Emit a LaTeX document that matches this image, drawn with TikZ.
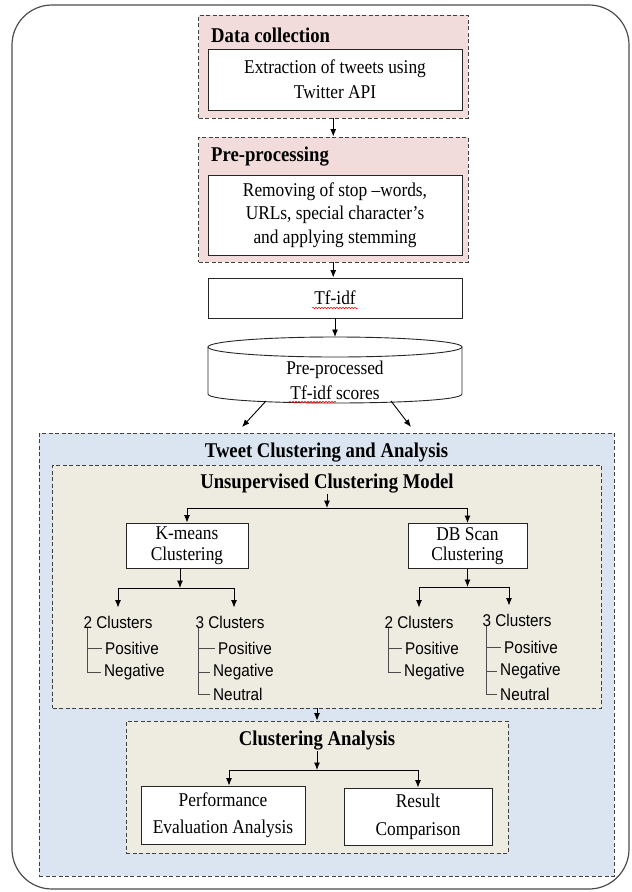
\documentclass[tikz,border=0pt]{standalone}
\usepackage{fontspec}
\setmainfont{Liberation Serif}[FakeStretch=0.89]
\setsansfont{Liberation Sans}[FakeStretch=0.9]
\usetikzlibrary{arrows.meta,decorations.pathmorphing}
\definecolor{pinkfill}{HTML}{F2DCDB}
\definecolor{bluefill}{HTML}{DBE5F1}
\definecolor{tanfill}{HTML}{EEECE1}

\begin{document}
\begin{tikzpicture}[x=1pt, y=-1pt,
    box/.style={draw=black!85, fill=white, line width=0.9pt, align=center, inner sep=0pt,
        font=\fontsize{19.5}{25}\selectfont},
    group/.style={draw=black!75, line width=0.9pt, dash pattern=on 4pt off 2.5pt, inner sep=0pt},
    heading/.style={font=\bfseries\fontsize{21}{25}\selectfont, inner sep=0pt},
    count/.style={font=\sffamily\fontsize{17}{20}\selectfont, inner sep=0pt},
    leaf/.style={font=\sffamily\fontsize{17}{20}\selectfont, inner xsep=3pt, inner ysep=0pt, anchor=west},
    twig/.style={draw=black!70, line width=0.9pt},
    arr/.style={-{Latex[length=7.5pt,width=6pt]}, line width=0.9pt},
    spell/.style={red, line width=0.5pt, decorate, decoration={snake, amplitude=0.8pt, segment length=3pt}}]

            \useasboundingbox (0,0) rectangle (632,892);
            \draw[black!70, line width=1.2pt, rounded corners=40pt] (12,5) rectangle (629,889);

            % data collection
            \node[group, fill=pinkfill, minimum width=269.5pt, minimum height=103pt] (dc) at (333.25,66.5) {};
            \node[heading, anchor=west] (dctitle) at (211,35) {Data collection};
            \node[box, minimum width=254pt, minimum height=61pt] (ext) at (335,79.5) {Extraction of tweets using\\Twitter API};

            % pre-processing
            \node[group, fill=pinkfill, minimum width=269.5pt, minimum height=125pt] (pp) at (333.25,199.5) {};
            \node[heading, anchor=west] (pptitle) at (211,157) {Pre-processing};
            \node[box, minimum width=254pt, minimum height=80pt, font=\fontsize{19.5}{23.5}\selectfont] (rm) at (335,215)
                {Removing of stop –words,\\URLs, special character’s\\and applying stemming};
            \draw[arr] (dc.south) -- (pp.north);

            % tf-idf
            \node[box, minimum width=254pt, minimum height=40pt] (tf) at (335,298) {Tf-idf};
            \draw[spell] ([xshift=-23pt,yshift=-10pt]tf.center) -- ++(46,0);
            \draw[arr] (pp.south) -- (pp.south |- tf.north);

            % scores database
            \filldraw[fill=white, draw=black!85, line width=0.9pt] (208,347) -- (208,394)
                .. controls (208,406) and (462,406) .. (462,394) -- (462,347);
            \draw[fill=white, draw=black!85, line width=0.9pt] (335,347) ellipse [x radius=127pt, y radius=10pt];
            \node[align=center, inner sep=0pt, font=\fontsize{19.5}{25}\selectfont] (db) at (335,380.5) {Pre-processed\\Tf-idf scores};
            \draw[spell] (289,402) -- (336,402);
            \coordinate (dbtop) at (335,337);
            \coordinate (dbl) at (266,401);
            \coordinate (dbr) at (391,401);
            \draw[arr] (tf.south) -- (dbtop);

            % tweet clustering and analysis
            \node[group, fill=bluefill, minimum width=575pt, minimum height=443pt] (tc) at (326.5,654.5) {};
            \node[heading] (tctitle) at (326.5,453) {Tweet Clustering and Analysis};
            \coordinate (tl) at (242,427);
            \coordinate (tr) at (411,427);
            \draw[arr] (dbl) -- (tl);
            \draw[arr] (dbr) -- (tr);

            % unsupervised model
            \node[group, fill=tanfill, minimum width=548.5pt, minimum height=243pt] (uc) at (326.75,586.5) {};
            \node[heading] (uctitle) at (327,484) {Unsupervised Clustering Model};
            \node[box, minimum width=122pt, minimum height=45pt, font=\fontsize{19.5}{20.5}\selectfont] (km) at (187,545.5) {K-means\\Clustering};
            \node[box, minimum width=119pt, minimum height=45pt, font=\fontsize{19.5}{20.5}\selectfont] (dbs) at (467.5,546) {DB Scan\\Clustering};
            \coordinate (ucfork) at (327,508);
            \draw[arr] (uctitle.south) -- (ucfork);
            \draw[arr] (ucfork) -| (km.north);
            \draw[arr] (ucfork) -| (dbs.north);

            % k-means clusters
            \node[count] (k2) at (118,622) {2 Clusters};
            \node[count] (k3) at (230,622) {3 Clusters};
            \coordinate (kfork) at (180,588);
            \draw[arr] (km.south -| kfork) -- (kfork);
            \draw[arr] (kfork) -| ([yshift=8pt]k2.north);
            \draw[arr] (kfork) -| ([xshift=4pt,yshift=8pt]k3.north);
            \node[leaf] (k2p) at (102,648) {Positive};
            \node[leaf] (k2n) at (101,672) {Negative};
            \draw[twig] ([xshift=4pt]k2.south west) |- (k2n.west);
            \draw[twig] ([xshift=4pt]k2.south west |- k2p.west) -- (k2p.west);
            \node[leaf] (k3p) at (215,648) {Positive};
            \node[leaf] (k3n) at (210,672) {Negative};
            \node[leaf] (k3u) at (210,694) {Neutral};
            \draw[twig] ([xshift=3.5pt]k3.south west) |- (k3u.west);
            \draw[twig] ([xshift=3.5pt]k3.south west |- k3p.west) -- (k3p.west);
            \draw[twig] ([xshift=3.5pt]k3.south west |- k3n.west) -- (k3n.west);

            % db scan clusters
            \node[count] (d2) at (419,622) {2 Clusters};
            \node[count] (d3) at (517,620) {3 Clusters};
            \coordinate (dfork) at (467.5,587);
            \draw[arr] (dbs.south) -- (dfork);
            \draw[arr] (dfork) -| ([yshift=8pt]d2.north);
            \draw[arr] (dfork) -| ([xshift=-8pt,yshift=8pt]d3.north);
            \node[leaf] (d2p) at (402,648) {Positive};
            \node[leaf] (d2n) at (401,672) {Negative};
            \draw[twig] ([xshift=4pt]d2.south west) |- (d2n.west);
            \draw[twig] ([xshift=4pt]d2.south west |- d2p.west) -- (d2p.west);
            \node[leaf] (d3p) at (501,647) {Positive};
            \node[leaf] (d3n) at (497,671) {Negative};
            \node[leaf] (d3u) at (497,694) {Neutral};
            \draw[twig] ([xshift=4pt]d3.south west) |- (d3u.west);
            \draw[twig] ([xshift=4pt]d3.south west |- d3p.west) -- (d3p.west);
            \draw[twig] ([xshift=4pt]d3.south west |- d3n.west) -- (d3n.west);

            % clustering analysis
            \node[group, fill=tanfill, minimum width=382pt, minimum height=132pt] (ca) at (317,787) {};
            \draw[arr] (uc.south -| ca.north) -- (ca.north);
            \node[heading] (catitle) at (317,741) {Clustering Analysis};
            \coordinate (cafork) at (317,770);
            \draw[arr] (catitle.south) -- (cafork);
            \node[box, minimum width=164pt, minimum height=58pt, font=\fontsize{19.5}{27}\selectfont] (pe) at (223,815) {Performance\\Evaluation Analysis};
            \node[box, minimum width=148pt, minimum height=57pt, font=\fontsize{19.5}{28}\selectfont] (rc) at (418,816.5) {Result\\Comparison};
            \draw[arr] (cafork) -| ([xshift=6pt]pe.north);
            \draw[arr] (cafork) -| (rc.north);

        \end{tikzpicture}
\end{document}
